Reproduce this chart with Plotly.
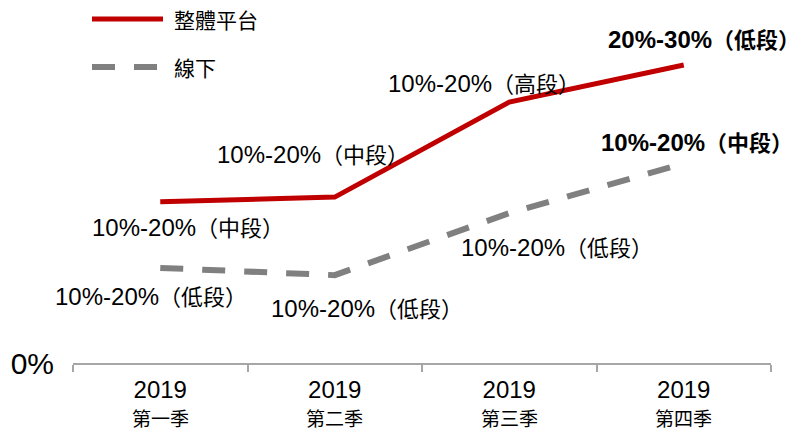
import plotly.graph_objects as go

# ---- data ----
quarters = ["2019 Q1", "2019 Q2", "2019 Q3", "2019 Q4"]
quarter_labels = ["第一季", "第二季", "第三季", "第四季"]
year_labels = ["2019", "2019", "2019", "2019"]
series_names = ["整體平台", "線下"]
platform_values = [44.4, 45.7, 71.9, 82.1]
offline_values = [26.2, 24.2, 41.3, 55.0]
platform_ranges = ["10%-20%", "10%-20%", "10%-20%", "20%-30%"]
platform_tiers = ["中段", "中段", "高段", "低段"]
offline_ranges = ["10%-20%", "10%-20%", "10%-20%", "10%-20%"]
offline_tiers = ["低段", "低段", "低段", "中段"]

# ---- styles / layout ----
W, H = 802, 432
ML, MR, MT, MB = 73, 31, 0, 69
RED = "#C00000"
GRAY = "#808080"
LAT = "Liberation Sans, Arial, Noto Sans CJK TC"
CJK = "Noto Sans CJK TC, Noto Sans CJK SC"
DASH = "23px,19px"

platform_offsets = [(28, -24), (-22, 44), (-25, 20), (20, 27)]
offline_offsets = [(-9, -27), (32, -32), (48, -33), (13, 22)]
platform_bold = [False, False, False, True]
offline_bold = [False, False, False, True]

fig = go.Figure()
fig.add_trace(go.Scatter(x=quarters, y=platform_values, mode="lines", name=series_names[0],
                         line=dict(color=RED, width=5), showlegend=False))
fig.add_trace(go.Scatter(x=quarters, y=offline_values, mode="lines", name=series_names[1],
                         line=dict(color=GRAY, width=6, dash=DASH), showlegend=False))


def label_text(rng, tier, bold):
    t = f"{rng}<span style='font-size:22px;font-family:{CJK}'>（{tier}）</span>"
    return f"<b>{t}</b>" if bold else t


annotations = []
for vals, rngs, tiers, offs, bolds in [
    (platform_values, platform_ranges, platform_tiers, platform_offsets, platform_bold),
    (offline_values, offline_ranges, offline_tiers, offline_offsets, offline_bold),
]:
    for q, v, r, t, (dx, dy), b in zip(quarters, vals, rngs, tiers, offs, bolds):
        annotations.append(dict(x=q, y=v, xref="x", yref="y", text=label_text(r, t, b),
                                showarrow=False, xshift=dx, yshift=dy,
                                font=dict(family=LAT, size=24, color="#000000")))

pw = W - ML - MR
ph = H - MT - MB


def px_x(p):
    return (p - ML) / pw


def px_y(p):
    return (H - MB - p) / ph


shapes = [
    dict(type="line", xref="paper", yref="paper", x0=px_x(92), x1=px_x(163), y0=px_y(19), y1=px_y(19),
         line=dict(color=RED, width=5)),
    dict(type="line", xref="paper", yref="paper", x0=px_x(92), x1=px_x(157), y0=px_y(67), y1=px_y(67),
         line=dict(color=GRAY, width=6, dash=DASH)),
]
for name, py in zip(series_names, [19, 67]):
    annotations.append(dict(x=px_x(172), y=px_y(py), xref="paper", yref="paper", xanchor="left",
                            yanchor="middle", text=name, showarrow=False,
                            font=dict(family=CJK, size=21, color="#000000")))

# second line of category labels
for q, lab in zip(quarters, quarter_labels):
    annotations.append(dict(x=q, y=px_y(432), xref="x", yref="paper", yanchor="bottom",
                            text=lab, showarrow=False, borderpad=0,
                            font=dict(family=CJK, size=19, color="#000000")))

fig.update_layout(
    width=W, height=H, margin=dict(l=ML, r=MR, t=MT, b=MB, autoexpand=False),
    paper_bgcolor="white", plot_bgcolor="white",
    annotations=annotations, shapes=shapes, showlegend=False,
    xaxis=dict(type="category", range=[-0.5, 3.5], tickvals=quarters, ticktext=year_labels,
               tickson="boundaries", ticks="outside", ticklen=7, tickcolor="#A6A6A6", tickwidth=2,
               ticklabelstandoff=4, automargin=False,
               showline=True, linecolor="#A6A6A6", linewidth=2, showgrid=False, zeroline=False,
               tickfont=dict(family=LAT, size=24, color="#000000")),
    yaxis=dict(range=[0, 100], tickvals=[0], ticktext=["0%"], showgrid=False, zeroline=False,
               showline=False, ticks="", ticklabelstandoff=18, automargin=False,
               tickfont=dict(family=LAT, size=30, color="#000000")),
)

fig.write_html("out.html")
